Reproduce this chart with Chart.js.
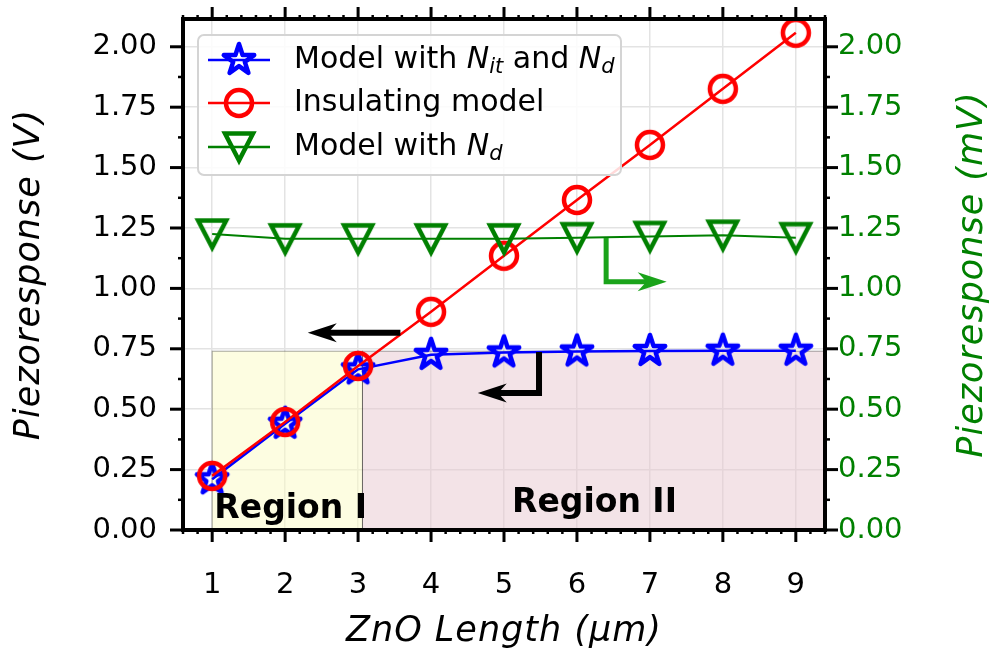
<!DOCTYPE html>
<html lang="en">
<head>
<meta charset="UTF-8">
<title>Piezoresponse vs ZnO length</title>
<script src="https://cdn.jsdelivr.net/npm/chart.js@4"></script>
<style>
  body { margin: 0; background: #fff; }
  #wrap { width: 996px; height: 657px; }
</style>
</head>
<body>
<div id="wrap"><canvas id="piezoChart" width="996" height="657"></canvas></div>
<script>
// data
const lengths = [1, 2, 3, 4, 5, 6, 7, 8, 9];
const modelNitNd = [0.21, 0.44, 0.665, 0.725, 0.735, 0.739, 0.741, 0.742, 0.742];   // V
const insulating = [0.224, 0.447, 0.679, 0.903, 1.135, 1.366, 1.594, 1.826, 2.058]; // V
const modelNd = [1.225, 1.205, 1.205, 1.205, 1.205, 1.21, 1.215, 1.22, 1.21];       // mV (right axis)

const xTickValues = [1, 2, 3, 4, 5, 6, 7, 8, 9];
const yTickValues = [0, 0.25, 0.5, 0.75, 1.0, 1.25, 1.5, 1.75, 2.0];

const FONT = '"DejaVu Sans", sans-serif';
const GREEN = '#008000';

// legend labels, split so the N subscripts can be set in italic
const legendLabels = [
    [['Model with ', 'n'], ['N', 'i'], ['it', 'sub'], [' and ', 'n'], ['N', 'i'], ['d', 'sub']],
    [['Insulating model', 'n']],
    [['Model with ', 'n'], ['N', 'i'], ['d', 'sub']]
];

function makeMarker(kind, color) {
    const c = document.createElement('canvas');
    c.width = 48; c.height = 48;
    const g = c.getContext('2d');
    g.translate(24, 24);
    g.strokeStyle = color;
    g.lineWidth = 4.5;
    g.beginPath();
    if (kind === 'star') {
        const R = 16, r = R * 0.381966;
        for (let i = 0; i < 10; i++) {
            const a = -Math.PI / 2 + i * Math.PI / 5;
            const rad = i % 2 ? r : R;
            g.lineTo(rad * Math.cos(a), rad * Math.sin(a));
        }
        g.closePath();
        g.lineJoin = 'round';
    } else if (kind === 'circle') {
        g.arc(0, 0, 13, 0, Math.PI * 2);
    } else {
        g.moveTo(0, 13.5); g.lineTo(-14, -13.5); g.lineTo(14, -13.5);
        g.closePath();
        g.lineJoin = 'miter';
    }
    g.stroke();
    return c;
}

const starMark = makeMarker('star', '#0000ff');
const circleMark = makeMarker('circle', '#ff0000');
const triMark = makeMarker('tri', GREEN);

function arrow(ctx, pts, color, lw) {
    const n = pts.length;
    const [px, py] = pts[n - 2];
    const [tx, ty] = pts[n - 1];
    const ang = Math.atan2(ty - py, tx - px);
    const dx = Math.cos(ang), dy = Math.sin(ang);
    const hl = 29, hw = 9.5;
    ctx.save();
    ctx.strokeStyle = color;
    ctx.fillStyle = color;
    ctx.lineWidth = lw;
    ctx.lineJoin = 'miter';
    ctx.beginPath();
    ctx.moveTo(pts[0][0], pts[0][1]);
    for (let i = 1; i < n - 1; i++) ctx.lineTo(pts[i][0], pts[i][1]);
    ctx.lineTo(tx - dx * hl * 0.6, ty - dy * hl * 0.6);
    ctx.stroke();
    ctx.beginPath();
    ctx.moveTo(tx, ty);
    ctx.lineTo(tx - dx * hl - dy * hw, ty - dy * hl + dx * hw);
    ctx.lineTo(tx - dx * hl * 0.7, ty - dy * hl * 0.7);
    ctx.lineTo(tx - dx * hl + dy * hw, ty - dy * hl - dx * hw);
    ctx.closePath();
    ctx.fill();
    ctx.restore();
}

function drawRich(ctx, parts, x, y, size) {
    ctx.textBaseline = 'middle';
    ctx.textAlign = 'left';
    parts.forEach(([t, s]) => {
        let dy = 0;
        if (s === 'n') ctx.font = size + 'px ' + FONT;
        else if (s === 'i') ctx.font = 'italic ' + size + 'px ' + FONT;
        else { ctx.font = 'italic ' + Math.round(size * 0.7) + 'px ' + FONT; dy = size * 0.25; }
        ctx.fillText(t, x, y + dy);
        x += ctx.measureText(t).width;
    });
}

function axisTitle(ctx, text, x, y, rot, color) {
    ctx.save();
    ctx.translate(x, y);
    ctx.rotate(rot);
    ctx.fillStyle = color;
    ctx.font = 'italic 35px ' + FONT;
    ctx.letterSpacing = '1px';
    ctx.textAlign = 'center';
    ctx.textBaseline = 'middle';
    ctx.fillText(text, 0, 0);
    ctx.restore();
}

const annotations = {
    id: 'annotations',
    beforeDatasetsDraw(chart) {
        const ctx = chart.ctx;
        const xs = chart.scales.x, ys = chart.scales.y;
        const top = ys.getPixelForValue(0.74), bot = ys.getPixelForValue(0);
        const x1 = xs.getPixelForValue(1), x3 = xs.getPixelForValue(3.06);
        const xr = chart.chartArea.right;
        ctx.save();
        ctx.fillStyle = 'rgba(251,251,195,0.5)';
        ctx.fillRect(x1, top, x3 - x1, bot - top);
        ctx.fillStyle = 'rgba(231,199,207,0.5)';
        ctx.fillRect(x3, top, xr - x3, bot - top);
        ctx.strokeStyle = 'rgba(0,0,0,0.35)';
        ctx.lineWidth = 1;
        ctx.strokeRect(x1, top, x3 - x1, bot - top);
        ctx.strokeRect(x3, top, xr - x3, bot - top);
        ctx.restore();
    },
    afterDatasetsDraw(chart) {
        const ctx = chart.ctx;
        const xs = chart.scales.x, ys = chart.scales.y, y2 = chart.scales.y2;
        const P = (x, y, s) => [xs.getPixelForValue(x), (s || ys).getPixelForValue(y)];

        ctx.save();
        ctx.fillStyle = '#000';
        ctx.font = 'bold 33px ' + FONT;
        ctx.textBaseline = 'middle';
        ctx.textAlign = 'left';
        let p = P(1.03, 0.085);
        ctx.fillText('Region I', p[0], p[1]);
        ctx.textAlign = 'center';
        p = P(6.24, 0.112);
        ctx.fillText('Region II', p[0], p[1]);
        ctx.restore();

        arrow(ctx, [P(3.58, 0.816), P(2.31, 0.816)], '#000', 6);
        arrow(ctx, [P(5.48, 0.737), P(5.48, 0.567), P(4.64, 0.567)], '#000', 6);
        arrow(ctx, [P(6.40, 1.209, y2), P(6.40, 1.027, y2), P(7.23, 1.027, y2)], '#1aa31a', 5);

        // legend box
        ctx.save();
        ctx.beginPath();
        ctx.roundRect(198, 35, 423, 140, 6);
        ctx.fillStyle = 'rgba(255,255,255,0.85)';
        ctx.fill();
        ctx.strokeStyle = '#d4d4d4';
        ctx.lineWidth = 2;
        ctx.stroke();
        const rows = [
            { y: 60, color: '#0000ff', mark: starMark },
            { y: 103, color: '#ff0000', mark: circleMark },
            { y: 147, color: GREEN, mark: triMark }
        ];
        rows.forEach((r, i) => {
            ctx.strokeStyle = r.color;
            ctx.lineWidth = 2.5;
            ctx.beginPath();
            ctx.moveTo(208, r.y); ctx.lineTo(270, r.y);
            ctx.stroke();
            ctx.drawImage(r.mark, 239 - 24, r.y - 24);
            ctx.fillStyle = '#000';
            drawRich(ctx, legendLabels[i], 294, r.y, 30);
        });
        ctx.restore();
    },
    afterDraw(chart) {
        const ctx = chart.ctx;
        const { left, right, top, bottom } = chart.chartArea;
        const xs = chart.scales.x, ys = chart.scales.y;
        ctx.save();
        ctx.strokeStyle = '#000';
        const seg = (a, b, c, d, w) => { ctx.lineWidth = w; ctx.beginPath(); ctx.moveTo(a, b); ctx.lineTo(c, d); ctx.stroke(); };
        // x ticks, top and bottom
        for (let k = 3; k <= 47; k++) {
            const v = k / 5, px = xs.getPixelForValue(v);
            const major = k % 5 === 0;
            const len = major ? 12 : 4;
            seg(px, bottom, px, bottom + len, major ? 3 : 2.5);
            seg(px, top, px, top - len, major ? 3 : 2.5);
        }
        // y ticks, left and right
        for (let k = 0; k <= 16; k++) {
            const v = k * 0.125, py = ys.getPixelForValue(v);
            const major = k % 2 === 0;
            const len = major ? 13 : 5;
            seg(left, py, left - len, py, major ? 3 : 2.5);
            seg(right, py, right + len, py, major ? 3 : 2.5);
        }
        ctx.lineWidth = 4;
        ctx.strokeRect(left, top, right - left, bottom - top);
        ctx.restore();

        const midY = (top + bottom) / 2;
        axisTitle(ctx, 'Piezoresponse (V)', 30, midY, -Math.PI / 2, '#000');
        axisTitle(ctx, 'Piezoresponse (mV)', 973, midY, -Math.PI / 2, GREEN);
        axisTitle(ctx, 'ZnO Length (μm)', (left + right) / 2, 632, 0, '#000');
    }
};

const pts = vals => lengths.map((x, i) => ({ x: x, y: vals[i] }));
const noPadY = s => { s.paddingTop = 0; s.paddingBottom = 0; };

new Chart(document.getElementById('piezoChart'), {
    type: 'line',
    data: {
        datasets: [
            {
                label: 'Model with Nit and Nd',
                data: pts(modelNitNd),
                yAxisID: 'y',
                borderColor: '#0000ff',
                borderWidth: 2.5,
                pointStyle: starMark,
                order: 3
            },
            {
                label: 'Insulating model',
                data: pts(insulating),
                yAxisID: 'y',
                borderColor: '#ff0000',
                borderWidth: 2.5,
                pointStyle: circleMark,
                order: 2
            },
            {
                label: 'Model with Nd',
                data: pts(modelNd),
                yAxisID: 'y2',
                borderColor: GREEN,
                borderWidth: 2,
                pointStyle: triMark,
                order: 1
            }
        ]
    },
    options: {
        responsive: false,
        animation: false,
        clip: false,
        layout: { padding: { top: 19, left: 0, right: 0, bottom: 0 } },
        elements: { line: { tension: 0, fill: false } },
        plugins: { legend: { display: false }, tooltip: { enabled: false } },
        scales: {
            x: {
                type: 'linear',
                min: 0.6,
                max: 9.4,
                afterBuildTicks: s => { s.ticks = xTickValues.map(v => ({ value: v })); },
                afterFit: s => { s.height = 127; s.paddingLeft = 0; s.paddingRight = 0; },
                grid: { color: '#e3e3e3', lineWidth: 1.5, drawTicks: false },
                border: { display: false },
                ticks: { color: '#000', font: { family: FONT, size: 29 }, padding: 38, maxRotation: 0 }
            },
            y: {
                position: 'left',
                min: 0,
                max: 2.115,
                afterBuildTicks: s => { s.ticks = yTickValues.map(v => ({ value: v })); },
                afterFit: s => { s.width = 183; noPadY(s); },
                grid: { color: '#e3e3e3', lineWidth: 1.5, drawTicks: false },
                border: { display: false },
                ticks: { color: '#000', font: { family: FONT, size: 29 }, padding: 26, callback: v => v.toFixed(2) }
            },
            y2: {
                position: 'right',
                min: 0,
                max: 2.115,
                afterBuildTicks: s => { s.ticks = yTickValues.map(v => ({ value: v })); },
                afterFit: s => { s.width = 171; noPadY(s); },
                grid: { display: false, drawTicks: false },
                border: { display: false },
                ticks: { color: GREEN, font: { family: FONT, size: 29 }, padding: 13, callback: v => v.toFixed(2) }
            }
        }
    },
    plugins: [annotations]
});
</script>
</body>
</html>
